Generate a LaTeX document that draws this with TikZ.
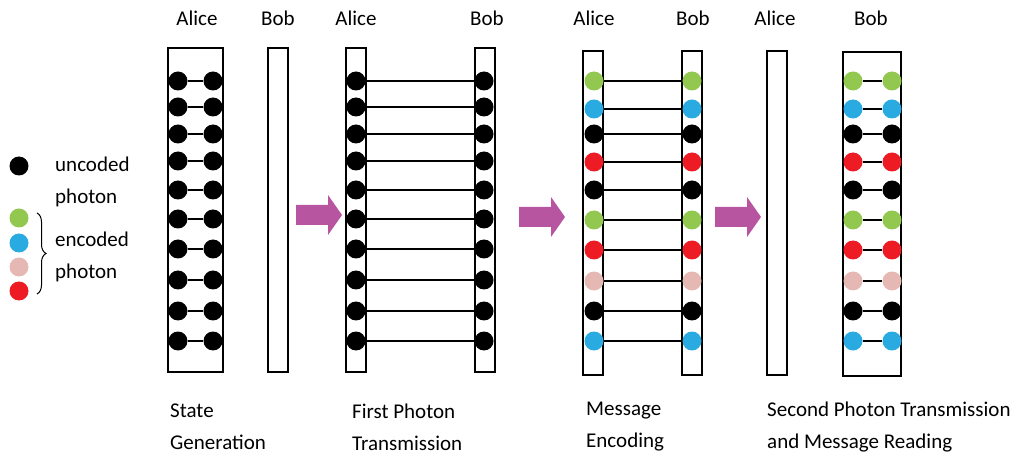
\documentclass[tikz,border=0pt]{standalone}
\usepackage{fontspec}
\setmainfont{Carlito}
\usetikzlibrary{decorations.pathreplacing}
\definecolor{cgreen}{RGB}{146,200,80}
\definecolor{cblue}{RGB}{41,171,226}
\definecolor{cred}{RGB}{237,28,36}
\definecolor{cpink}{RGB}{230,184,180}
\definecolor{cflow}{RGB}{184,85,160}
\begin{document}
\begin{tikzpicture}[x=1pt,y=-1pt,
photon/.style={circle,inner sep=0pt,minimum size=19pt},
link/.style={line width=1.6pt},
port/.style={draw,line width=2pt},
flow/.style={fill=cflow},
lbl/.style={font=\fontsize{21}{32}\selectfont,inner sep=0pt},
]
\useasboundingbox (0,0) rectangle (1020,454);
% legend
\node[photon,fill=black] (key0) at (19,166) {};
\node[photon,fill=cgreen] (key1) at (19,218) {};
\node[photon,fill=cblue] (key2) at (19,243) {};
\node[photon,fill=cpink] (key3) at (19,267) {};
\node[photon,fill=cred] (key4) at (19,291) {};
\node[lbl,anchor=west,align=left] (keyun) at (55,182) {uncoded\\photon};
\node[lbl,anchor=west,align=left] (keyen) at (55,257) {encoded\\photon};
\draw[line width=1pt,decorate,decoration={brace,amplitude=9pt}] (37,213) -- (37,294);
% boxes
\path[port]
    (168,48) rectangle (223,372)
    (268,48) rectangle (288,372)
    (346,48) rectangle (366,372)
    (475,48) rectangle (495,372)
    (583,51) rectangle (603,375)
    (682,51) rectangle (702,375)
    (767,51) rectangle (787,375)
    (843,52) rectangle (901,376);
% state generation and first transmission
\foreach \y [count=\i] in {81,107,134,161,190,219,249,280,311,341} {
  \node[photon,fill=black] (ga\i) at (178,\y) {};
  \node[photon,fill=black] (gb\i) at (213,\y) {};
  \draw[link] (ga\i) -- (gb\i);
  \node[photon,fill=black] (ta\i) at (356,\y) {};
  \node[photon,fill=black] (tb\i) at (484,\y) {};
  \draw[link] (ta\i) -- (tb\i);
}
% encoding and reading
\foreach \y/\c [count=\i] in {81/cgreen,109/cblue,134/black,162/cred,190/black,
    220/cgreen,250/cred,281/cpink,311/black,341/cblue} {
  \node[photon,fill=\c] (ea\i) at (594,\y) {};
  \node[photon,fill=\c] (eb\i) at (692,\y) {};
  \draw[link] (ea\i) -- (eb\i);
  \node[photon,fill=\c] (ra\i) at (853,\y) {};
  \node[photon,fill=\c] (rb\i) at (892,\y) {};
  \draw[link] (ra\i) -- (rb\i);
}
% arrows
\foreach \x/\y in {296/215,519/217,715/217}
  \fill[flow] (\x,\y-10) -- ++(32,0) -- ++(0,-10) -- ++(14,20) -- ++(-14,20)
    -- ++(0,-10) -- ++(-32,0) -- cycle;
% names
\foreach \x/\n [count=\i] in {197/Alice,278/Bob,356/Alice,487/Bob,594/Alice,693/Bob,775/Alice,871/Bob}
  \node[lbl] (who\i) at (\x,18) {\n};
% steps
\node[lbl,anchor=west,align=left] (step1) at (170,427) {State\\Generation};
\node[lbl,anchor=west,align=left] (step2) at (352,427) {First Photon\\Transmission};
\node[lbl,anchor=west,align=left] (step3) at (586,427) {Message\\Encoding};
\node[lbl,anchor=west,align=left] (step4) at (767,427) {Second Photon Transmission\\and Message Reading};
\end{tikzpicture}
\end{document}
